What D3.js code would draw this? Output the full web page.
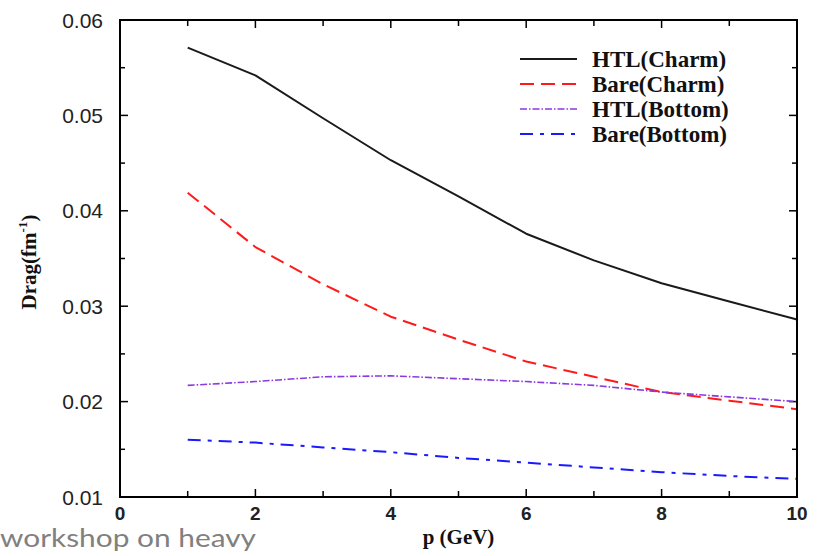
<!DOCTYPE html>
<html>
<head>
<meta charset="utf-8">
<script src="https://cdn.jsdelivr.net/npm/d3@7/dist/d3.min.js"></script>
<style>
  html, body { margin: 0; padding: 0; background: #fff; }
  svg { display: block; }
</style>
</head>
<body>
<svg id="chart" width="817" height="556"></svg>
<script>
// Momentum grid (GeV)
const momentum = [1, 2, 3, 4, 5, 6, 7, 8, 9, 10];

// Drag coefficient (fm^-1) for each case
const htlCharm   = [0.0571, 0.0542, 0.0497, 0.0453, 0.0415, 0.0376, 0.0348, 0.0324, 0.0305, 0.0286];
const bareCharm  = [0.0419, 0.0362, 0.0323, 0.0289, 0.0265, 0.0242, 0.0226, 0.0210, 0.0201, 0.0192];
const htlBottom  = [0.0217, 0.0221, 0.0226, 0.0227, 0.0224, 0.0221, 0.0217, 0.0210, 0.0205, 0.0200];
const bareBottom = [0.0160, 0.0157, 0.0152, 0.0147, 0.0141, 0.0136, 0.0131, 0.0126, 0.0122, 0.0119];

const seriesNames = ["HTL(Charm)", "Bare(Charm)", "HTL(Bottom)", "Bare(Bottom)"];

const xTicks = [0, 2, 4, 6, 8, 10];
const xMinorTicks = [1, 3, 5, 7, 9];
const yTicks = [0.01, 0.02, 0.03, 0.04, 0.05, 0.06];
const yMinorTicks = [0.015, 0.025, 0.035, 0.045, 0.055];

const svg = d3.select("#chart");
const L = 120, R = 797, T = 20, B = 497;

const x = d3.scaleLinear().domain([0, 10]).range([L, R]);
const y = d3.scaleLinear().domain([0.01, 0.06]).range([B, T]);

const styles = [
  { color: "#1a1a1a", width: 2,   dash: null },
  { color: "#ff1a1a", width: 2,   dash: "14,7" },
  { color: "#8a3ae0", width: 1.6, dash: "7,2,1.5,2" },
  { color: "#1a1aff", width: 2,   dash: "13,7,4,7" }
];
const allSeries = [htlCharm, bareCharm, htlBottom, bareBottom];

// Ticks on all four sides, pointing inward
const major = 8, minor = 5;
const axesG = svg.append("g").attr("stroke", "#000").attr("stroke-width", 1.5);

function tickLines(values, len, axisDir) {
  values.forEach(v => {
    if (axisDir === "x") {
      axesG.append("line").attr("x1", x(v)).attr("x2", x(v)).attr("y1", B).attr("y2", B - len);
      axesG.append("line").attr("x1", x(v)).attr("x2", x(v)).attr("y1", T).attr("y2", T + len);
    } else {
      axesG.append("line").attr("y1", y(v)).attr("y2", y(v)).attr("x1", L).attr("x2", L + len);
      axesG.append("line").attr("y1", y(v)).attr("y2", y(v)).attr("x1", R).attr("x2", R - len);
    }
  });
}
tickLines(xTicks.slice(1, -1), major, "x");
tickLines(xMinorTicks, minor + 1, "x");
tickLines(yTicks.slice(1, -1), major, "y");
tickLines(yMinorTicks, minor, "y");

// Curves
const line = d3.line()
  .x((d, i) => x(momentum[i]))
  .y(d => y(d));

allSeries.forEach((s, i) => {
  svg.append("path")
    .datum(s)
    .attr("fill", "none")
    .attr("stroke", styles[i].color)
    .attr("stroke-width", styles[i].width)
    .attr("stroke-dasharray", styles[i].dash)
    .attr("stroke-linejoin", "round")
    .attr("d", line);
});

// Frame
svg.append("rect")
  .attr("x", L).attr("y", T)
  .attr("width", R - L).attr("height", B - T)
  .attr("fill", "none")
  .attr("stroke", "#000")
  .attr("stroke-width", 2);

// Tick labels
svg.append("g").selectAll("text")
  .data(xTicks).join("text")
  .attr("x", d => x(d))
  .attr("y", 520)
  .attr("text-anchor", "middle")
  .attr("font-family", "Liberation Sans, Arial, sans-serif")
  .attr("font-weight", "bold")
  .attr("font-size", 19)
  .attr("fill", "#222")
  .text(d => d);

svg.append("g").selectAll("text")
  .data(yTicks).join("text")
  .attr("x", 103)
  .attr("y", d => y(d))
  .attr("dy", "0.36em")
  .attr("text-anchor", "end")
  .attr("font-family", "Liberation Sans, Arial, sans-serif")
  .attr("font-size", 21)
  .attr("fill", "#222")
  .text(d => d.toFixed(2));

// Axis titles
svg.append("text")
  .attr("x", (L + R) / 2)
  .attr("y", 544)
  .attr("text-anchor", "middle")
  .attr("font-family", "Liberation Serif, Times New Roman, serif")
  .attr("font-weight", "bold")
  .attr("font-size", 21)
  .attr("fill", "#111")
  .text("p (GeV)");

const yTitle = svg.append("text")
  .attr("transform", "translate(36,262) rotate(-90)")
  .attr("text-anchor", "middle")
  .attr("font-family", "Liberation Serif, Times New Roman, serif")
  .attr("font-weight", "bold")
  .attr("font-size", 21)
  .attr("fill", "#111");
yTitle.append("tspan").text("Drag(fm");
yTitle.append("tspan").attr("font-size", 13).attr("dy", -9).text("-1");
yTitle.append("tspan").attr("dy", 9).text(")");

// Legend
const legendY = [59, 84, 109, 134];
const legend = svg.append("g");
seriesNames.forEach((name, i) => {
  legend.append("line")
    .attr("x1", 520).attr("x2", 577)
    .attr("y1", legendY[i]).attr("y2", legendY[i])
    .attr("stroke", styles[i].color)
    .attr("stroke-width", styles[i].width)
    .attr("stroke-dasharray", styles[i].dash);
  legend.append("text")
    .attr("x", 592)
    .attr("y", legendY[i])
    .attr("dy", "0.35em")
    .attr("font-family", "Liberation Serif, Times New Roman, serif")
    .attr("font-weight", "bold")
    .attr("font-size", 23)
    .attr("fill", "#111")
    .text(name);
});

// Caption fragment in the lower-left corner
svg.append("text")
  .attr("x", 0)
  .attr("y", 547)
  .attr("font-family", "Lato, Open Sans, sans-serif")
  .attr("font-size", 25)
  .attr("fill", "#808080")
  .attr("textLength", 256)
  .attr("lengthAdjust", "spacingAndGlyphs")
  .text("workshop on heavy");
</script>
</body>
</html>
